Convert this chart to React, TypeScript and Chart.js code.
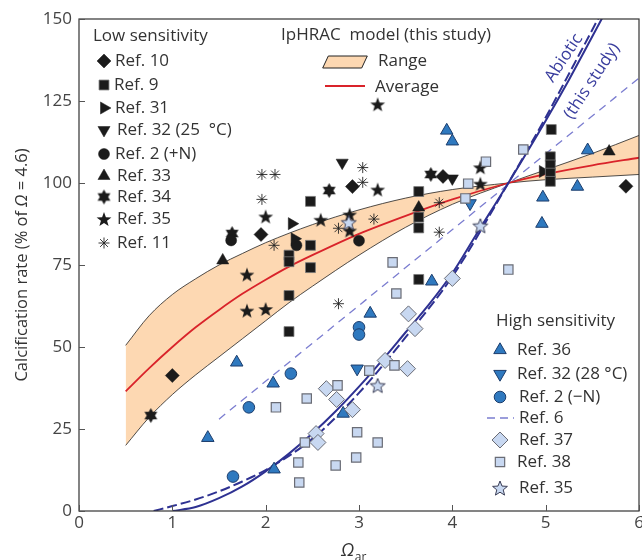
import React, { useEffect, useRef } from 'react';
import { Chart, registerables } from 'chart.js';
import { drawPoint } from 'chart.js/helpers';

Chart.register(...registerables);

type P = [number, number];

const xTickValues = [0, 1, 2, 3, 4, 5, 6];
const yTickValues = [0, 25, 50, 75, 100, 125, 150];

// ---- Low sensitivity (black) ----
const ref10: P[] = [[1.0, 41.3], [1.95, 84.3], [2.93, 98.9], [3.9, 102], [5.86, 99]];
const ref9: P[] = [[2.25, 54.7], [2.25, 65.7], [2.48, 94.4], [2.48, 81], [2.48, 74.2], [2.25, 78], [2.25, 76],
  [3.64, 97.4], [3.64, 89.6], [3.64, 86.3], [3.64, 70.6], [5.06, 116.3], [5.05, 108], [5.05, 105.5], [5.05, 103], [5.05, 100.5]];
const ref31: P[] = [[2.28, 87.6], [2.31, 83], [4.97, 103.5]];
const ref32cool: P[] = [[2.82, 106.2], [4.0, 101.4]];
const ref2plusN: P[] = [[1.63, 82.5], [3.0, 82.4], [2.33, 81]];
const ref33: P[] = [[1.54, 76.4], [3.64, 92.5], [5.68, 109.6]];
const ref34: P[] = [[0.77, 29.1], [1.64, 84.6], [2.68, 97.7], [3.77, 102.6]];
const ref35low: P[] = [[1.8, 72.1], [1.8, 61.1], [2.0, 61.6], [2.0, 89.8], [2.59, 88.8], [2.9, 90.4], [2.9, 85.5],
  [3.2, 98], [3.2, 124], [4.3, 104.8], [4.3, 99.8]];
const ref11: P[] = [[1.96, 102.6], [2.1, 102.6], [1.96, 95], [2.09, 81], [3.04, 104.7], [3.04, 100.2], [2.78, 86.2],
  [3.16, 89], [3.86, 94], [3.86, 85], [2.78, 63.2]];

// ---- High sensitivity ----
const ref36: P[] = [[1.38, 22.3], [1.69, 45.3], [2.08, 38.9], [2.09, 12.7], [2.83, 29.7], [3.12, 60.2], [3.78, 70],
  [3.94, 116], [4.0, 112.7], [4.97, 95.6], [4.96, 87.6], [5.34, 98.9], [5.45, 110]];
const ref32warm: P[] = [[4.19, 93.8], [2.98, 43.4]];
const ref2minusN: P[] = [[2.27, 41.9], [1.82, 31.6], [1.65, 10.5], [3.0, 56], [3.0, 53.8]];
const ref37: P[] = [[4.0, 70.9], [3.53, 60.1], [3.6, 55.6], [3.28, 45.9], [3.52, 43.4], [2.65, 37.3], [2.76, 34],
  [2.93, 30.9], [2.54, 23.6], [2.56, 20.9]];
const ref38: P[] = [[2.11, 31.6], [2.44, 34.3], [2.42, 20.9], [2.35, 14.8], [2.36, 8.7], [2.77, 38.3], [2.75, 13.9],
  [3.11, 42.8], [3.38, 44.4], [2.98, 24], [3.2, 20.9], [2.97, 16.3], [3.36, 75.8], [3.4, 66.3], [4.76, 110.2],
  [4.36, 106.5], [4.17, 99.8], [4.14, 95.3], [4.6, 73.6]];
const ref35high: P[] = [[3.2, 38.3], [4.3, 87], [2.89, 88]];

// ---- Model curves ----
const rangeA: P[] = [[0.5, 50.5], [0.75, 59.5], [1.0, 66], [1.25, 70.8], [1.5, 75], [1.75, 78.5], [2.0, 81.8],
  [2.5, 87.3], [3.0, 91.8], [3.5, 95.4], [4.0, 98], [4.6, 100], [5.0, 101], [5.5, 101.8], [6.0, 102.6]];
const rangeB: P[] = [[0.5, 20], [0.75, 28.5], [1.0, 35.5], [1.25, 41.5], [1.5, 47], [1.75, 52.5], [2.0, 58],
  [2.25, 63.5], [2.5, 68.5], [3.0, 78], [3.5, 86.5], [4.0, 93.5], [4.6, 100], [5.0, 104], [5.5, 109], [6.0, 114.5]];
const average: P[] = [[0.5, 36.5], [0.75, 43.5], [1.0, 50], [1.25, 56], [1.5, 61.3], [1.75, 66.2], [2.0, 70.5],
  [2.25, 74.5], [2.5, 78], [3.0, 84.5], [3.5, 90], [4.0, 95], [4.6, 100], [5.0, 102.7], [5.5, 105.4], [6.0, 107.7]];
const abioticSolid: P[] = [[1.0, 0], [1.25, 1.2], [1.5, 3.9], [1.75, 7.5], [2.0, 12.1], [2.25, 17.5], [2.5, 23.6],
  [2.75, 30.4], [3.0, 37.9], [3.25, 46], [3.5, 54.5], [3.75, 63], [4.0, 72.5], [4.25, 84], [4.6, 100], [5.0, 119],
  [5.25, 131.5], [5.6, 150], [5.75, 158]];
const abioticDashed: P[] = [[0.8, 0], [1.0, 1.5], [1.25, 3.5], [1.5, 6], [1.75, 9], [2.0, 12.5], [2.5, 22],
  [3.0, 36], [3.5, 53], [4.0, 71.5], [4.6, 100], [5.0, 120], [5.3, 136], [5.56, 150], [5.7, 158]];
const ref6Line: P[] = [[1.5, 28], [6.0, 132]];

const FONT = '"Open Sans", Lato, sans-serif';
const TEXT = '#333333';
const BLACK = '#1b1b1b';
const BLUE = '#2f79bf';
const BLUE_EDGE = '#1c3d6c';
const LIGHT = '#c8d8f1';
const LIGHT_EDGE = '#6a6c75';
const NAVY = '#2e3192';

function makeStar(n: number, outer: number, inner: number, fill: string, stroke: string, lw: number) {
  const size = Math.ceil(outer * 2 + lw * 2 + 4);
  const c = document.createElement('canvas');
  c.width = size;
  c.height = size;
  const g = c.getContext('2d')!;
  g.translate(size / 2, size / 2 + (n === 5 ? 0.8 : 0));
  g.beginPath();
  for (let i = 0; i < n * 2; i++) {
    const r = i % 2 === 0 ? outer : inner;
    const a = -Math.PI / 2 + (i * Math.PI) / n;
    g.lineTo(r * Math.cos(a), r * Math.sin(a));
  }
  g.closePath();
  g.fillStyle = fill;
  g.fill();
  if (lw > 0) {
    g.strokeStyle = stroke;
    g.lineWidth = lw;
    g.lineJoin = 'miter';
    g.stroke();
  }
  return c;
}

type M = { style: any; radius: number; rotation?: number; bg: string; border: string; bw: number };

export default function App() {
  const ref = useRef<HTMLCanvasElement>(null);

  useEffect(() => {
    const star5 = makeStar(5, 7.8, 3.2, BLACK, BLACK, 0);
    const star6 = makeStar(6, 7.4, 4.2, BLACK, BLACK, 0);
    const star5open = makeStar(5, 7.8, 3.4, LIGHT, '#3a3d55', 1);

    const mk: Record<string, M> = {
      ref10: { style: 'rectRot', radius: 7, bg: BLACK, border: BLACK, bw: 0.5 },
      ref9: { style: 'rect', radius: 7, bg: BLACK, border: '#7a7a7a', bw: 0.8 },
      ref31: { style: 'triangle', radius: 7, rotation: 90, bg: BLACK, border: BLACK, bw: 0.5 },
      ref32cool: { style: 'triangle', radius: 7, rotation: 180, bg: BLACK, border: BLACK, bw: 0.5 },
      ref2plusN: { style: 'circle', radius: 5.5, bg: BLACK, border: BLACK, bw: 0.5 },
      ref33: { style: 'triangle', radius: 7, bg: BLACK, border: BLACK, bw: 0.5 },
      ref34: { style: star6, radius: 7, bg: BLACK, border: BLACK, bw: 0 },
      ref35low: { style: star5, radius: 7, bg: BLACK, border: BLACK, bw: 0 },
      ref11: { style: 'star', radius: 5.5, bg: BLACK, border: '#222', bw: 0.9 },
      ref36: { style: 'triangle', radius: 7.2, bg: BLUE, border: BLUE_EDGE, bw: 1 },
      ref32warm: { style: 'triangle', radius: 7.2, rotation: 180, bg: BLUE, border: BLUE_EDGE, bw: 1 },
      ref2minusN: { style: 'circle', radius: 5.8, bg: BLUE, border: BLUE_EDGE, bw: 1 },
      ref37: { style: 'rectRot', radius: 8, bg: LIGHT, border: LIGHT_EDGE, bw: 1 },
      ref38: { style: 'rect', radius: 6.6, bg: LIGHT, border: LIGHT_EDGE, bw: 1.2 },
      ref35high: { style: star5open, radius: 7, bg: LIGHT, border: '#3a3d55', bw: 1 },
    };

    const toXY = (arr: P[]) => arr.map(([x, y]) => ({ x, y }));
    const scatter = (key: string, arr: P[]) => {
      const m = mk[key];
      return {
        type: 'scatter' as const,
        label: key,
        data: toXY(arr),
        pointStyle: m.style,
        pointRadius: m.radius,
        pointRotation: m.rotation || 0,
        pointBackgroundColor: m.bg,
        pointBorderColor: m.border,
        pointBorderWidth: m.bw,
        order: 1,
      };
    };
    const curve = (label: string, arr: P[], color: string, width: number, dash: number[], order: number, extra: any = {}) => ({
      type: 'line' as const,
      label,
      data: toXY(arr),
      borderColor: color,
      borderWidth: width,
      borderDash: dash,
      pointRadius: 0,
      cubicInterpolationMode: 'monotone',
      fill: false,
      order,
      ...extra,
    });

    const datasets: any[] = [
      curve('rangeB', rangeB, '#222', 0.8, [], 20),
      curve('rangeA', rangeA, '#222', 0.8, [], 20, { fill: { target: 0 }, backgroundColor: '#fdd8b2' }),
      curve('average', average, '#d9232a', 1.8, [], 10),
      curve('ref6', ref6Line, '#7b7dd0', 1.3, [8, 6], 10),
      curve('abioticDashed', abioticDashed, NAVY, 2, [10, 4], 9),
      curve('abioticSolid', abioticSolid, NAVY, 2, [], 9),
      scatter('ref38', ref38),
      scatter('ref37', ref37),
      scatter('ref35high', ref35high),
      scatter('ref2minusN', ref2minusN),
      scatter('ref32warm', ref32warm),
      scatter('ref36', ref36),
      scatter('ref11', ref11),
      scatter('ref9', ref9),
      scatter('ref10', ref10),
      scatter('ref31', ref31),
      scatter('ref32cool', ref32cool),
      scatter('ref2plusN', ref2plusN),
      scatter('ref33', ref33),
      scatter('ref34', ref34),
      scatter('ref35low', ref35low),
    ];

    const legendItem = (ctx: CanvasRenderingContext2D, m: M, x: number, y: number, label: string, tx: number) => {
      ctx.save();
      ctx.fillStyle = m.bg;
      ctx.strokeStyle = m.border;
      ctx.lineWidth = m.bw;
      drawPoint(ctx, { pointStyle: m.style, rotation: m.rotation || 0, radius: m.radius, borderWidth: m.bw } as any, x, y);
      ctx.restore();
      ctx.fillStyle = TEXT;
      ctx.fillText(label, tx, y);
    };

    const decor = {
      id: 'decor',
      afterDraw(chart: any) {
        const { ctx, chartArea: a, scales } = chart;
        const xs = scales.x;
        const ys = scales.y;
        ctx.save();
        // frame
        ctx.strokeStyle = '#333';
        ctx.lineWidth = 1.2;
        ctx.strokeRect(a.left, a.top, a.right - a.left, a.bottom - a.top);
        // inward tick marks
        ctx.lineWidth = 1;
        ctx.strokeStyle = '#555';
        ctx.beginPath();
        xTickValues.forEach((t) => {
          const px = Math.round(xs.getPixelForValue(t)) + 0.5;
          ctx.moveTo(px, a.bottom);
          ctx.lineTo(px, a.bottom - 6);
        });
        yTickValues.forEach((t) => {
          const py = Math.round(ys.getPixelForValue(t)) + 0.5;
          ctx.moveTo(a.left, py);
          ctx.lineTo(a.left + 6, py);
        });
        ctx.stroke();

        // legends
        const LF = `17px ${FONT}`;
        ctx.font = LF;
        ctx.textBaseline = 'middle';
        ctx.textAlign = 'left';
        ctx.fillStyle = TEXT;
        ctx.fillText('Low sensitivity', 93, 36);
        const low: [string, string, number, number][] = [
          ['ref10', 'Ref. 10', 61, 115],
          ['ref9', 'Ref. 9', 85, 114],
          ['ref31', 'Ref. 31', 108, 115],
          ['ref32cool', 'Ref. 32 (25  °C)', 130, 117],
          ['ref2plusN', 'Ref. 2 (+N)', 154, 115],
          ['ref33', 'Ref. 33', 176, 117],
          ['ref34', 'Ref. 34', 197, 117],
          ['ref35low', 'Ref. 35', 219, 117],
          ['ref11', 'Ref. 11', 243, 117],
        ];
        low.forEach(([k, l, y, tx]) => legendItem(ctx, mk[k], 104, y, l, tx));

        ctx.fillText('High sensitivity', 496, 321);
        const high: [string, string, number, number][] = [
          ['ref36', 'Ref. 36', 350, 517],
          ['ref32warm', 'Ref. 32 (28 °C)', 374, 517],
          ['ref2minusN', 'Ref. 2 (−N)', 397, 519],
          ['ref37', 'Ref. 37', 440, 519],
          ['ref38', 'Ref. 38', 462, 517],
          ['ref35high', 'Ref. 35', 488, 519],
        ];
        high.forEach(([k, l, y, tx]) => legendItem(ctx, mk[k], 500, y, l, tx));
        // Ref. 6 dashed line
        ctx.save();
        ctx.strokeStyle = '#7b7dd0';
        ctx.lineWidth = 1.3;
        ctx.setLineDash([8, 5]);
        ctx.beginPath();
        ctx.moveTo(487, 418);
        ctx.lineTo(514, 418);
        ctx.stroke();
        ctx.restore();
        ctx.fillStyle = TEXT;
        ctx.fillText('Ref. 6', 519, 418);

        // model legend
        ctx.fillText('IpHRAC  model (this study)', 281, 35);
        ctx.save();
        ctx.beginPath();
        ctx.moveTo(322.7, 68);
        ctx.lineTo(328.3, 56);
        ctx.lineTo(367.3, 56);
        ctx.lineTo(361.7, 68);
        ctx.closePath();
        ctx.fillStyle = '#fdd8b2';
        ctx.fill();
        ctx.strokeStyle = '#222';
        ctx.lineWidth = 1;
        ctx.stroke();
        ctx.strokeStyle = '#d9232a';
        ctx.lineWidth = 1.8;
        ctx.beginPath();
        ctx.moveTo(325, 86);
        ctx.lineTo(365, 86);
        ctx.stroke();
        ctx.restore();
        ctx.fillStyle = TEXT;
        ctx.fillText('Range', 378, 61);
        ctx.fillText('Average', 375, 87);

        // Abiotic label
        const ang = (-56.5 * Math.PI) / 180;
        ctx.save();
        ctx.fillStyle = '#3a3e9e';
        ctx.textAlign = 'center';
        ctx.font = LF;
        ctx.translate(564, 58);
        ctx.rotate(ang);
        ctx.fillText('Abiotic', 0, 0);
        ctx.restore();
        ctx.save();
        ctx.fillStyle = '#3a3e9e';
        ctx.textAlign = 'center';
        ctx.font = LF;
        ctx.translate(592, 81);
        ctx.rotate(ang);
        ctx.fillText('(this study)', 0, 0);
        ctx.restore();

        // y title
        ctx.save();
        ctx.fillStyle = TEXT;
        const f1 = `16.5px ${FONT}`;
        const f2 = `italic 16.5px ${FONT}`;
        const s1 = 'Calcification rate (% of ';
        const s2 = 'Ω';
        const s3 = ' = 4.6)';
        ctx.font = f1;
        const w1 = ctx.measureText(s1).width;
        const w3 = ctx.measureText(s3).width;
        ctx.font = f2;
        const w2 = ctx.measureText(s2).width;
        const tot = w1 + w2 + w3;
        ctx.translate(22, 265);
        ctx.rotate(-Math.PI / 2);
        ctx.textBaseline = 'middle';
        ctx.textAlign = 'left';
        let cx = -tot / 2;
        ctx.font = f1;
        ctx.fillText(s1, cx, 0);
        cx += w1;
        ctx.font = f2;
        ctx.fillText(s2, cx, 0);
        cx += w2;
        ctx.font = f1;
        ctx.fillText(s3, cx, 0);
        ctx.restore();

        // x title
        ctx.save();
        ctx.fillStyle = TEXT;
        ctx.textBaseline = 'alphabetic';
        ctx.textAlign = 'left';
        ctx.font = `italic 18px ${FONT}`;
        ctx.fillText('Ω', 341, 556);
        const wo = ctx.measureText('Ω').width;
        ctx.font = `12px ${FONT}`;
        ctx.fillText('ar', 341 + wo + 0.5, 561);
        ctx.restore();

        ctx.restore();
      },
    };

    const chart = new Chart(ref.current!, {
      type: 'scatter',
      data: { datasets },
      plugins: [decor],
      options: {
        animation: false,
        responsive: false,
        devicePixelRatio: 1,
        layout: { padding: { top: 19, right: 11, left: 0, bottom: 0 } },
        plugins: { legend: { display: false }, tooltip: { enabled: false } },
        scales: {
          x: {
            type: 'linear',
            min: 0,
            max: 6,
            afterFit: (s: any) => { s.height = 49; },
            afterBuildTicks: (s: any) => { s.ticks = xTickValues.map((v) => ({ value: v })); },
            grid: { display: false, drawTicks: false },
            border: { display: false },
            ticks: { color: '#444', font: { family: FONT, size: 17 }, padding: 2, maxRotation: 0 },
          },
          y: {
            type: 'linear',
            min: 0,
            max: 150,
            afterFit: (s: any) => { s.width = 79; },
            afterBuildTicks: (s: any) => { s.ticks = yTickValues.map((v) => ({ value: v })); },
            grid: { display: false, drawTicks: false },
            border: { display: false },
            ticks: { color: '#444', font: { family: FONT, size: 17 }, padding: 7 },
          },
        },
      } as any,
    });
    return () => chart.destroy();
  }, []);

  return (
    <div style={{ position: 'fixed', left: 0, top: 0, width: 642, height: 560, overflow: 'hidden', background: '#fff' }}>
      <canvas ref={ref} width={650} height={560} style={{ display: 'block' }} />
    </div>
  );
}
